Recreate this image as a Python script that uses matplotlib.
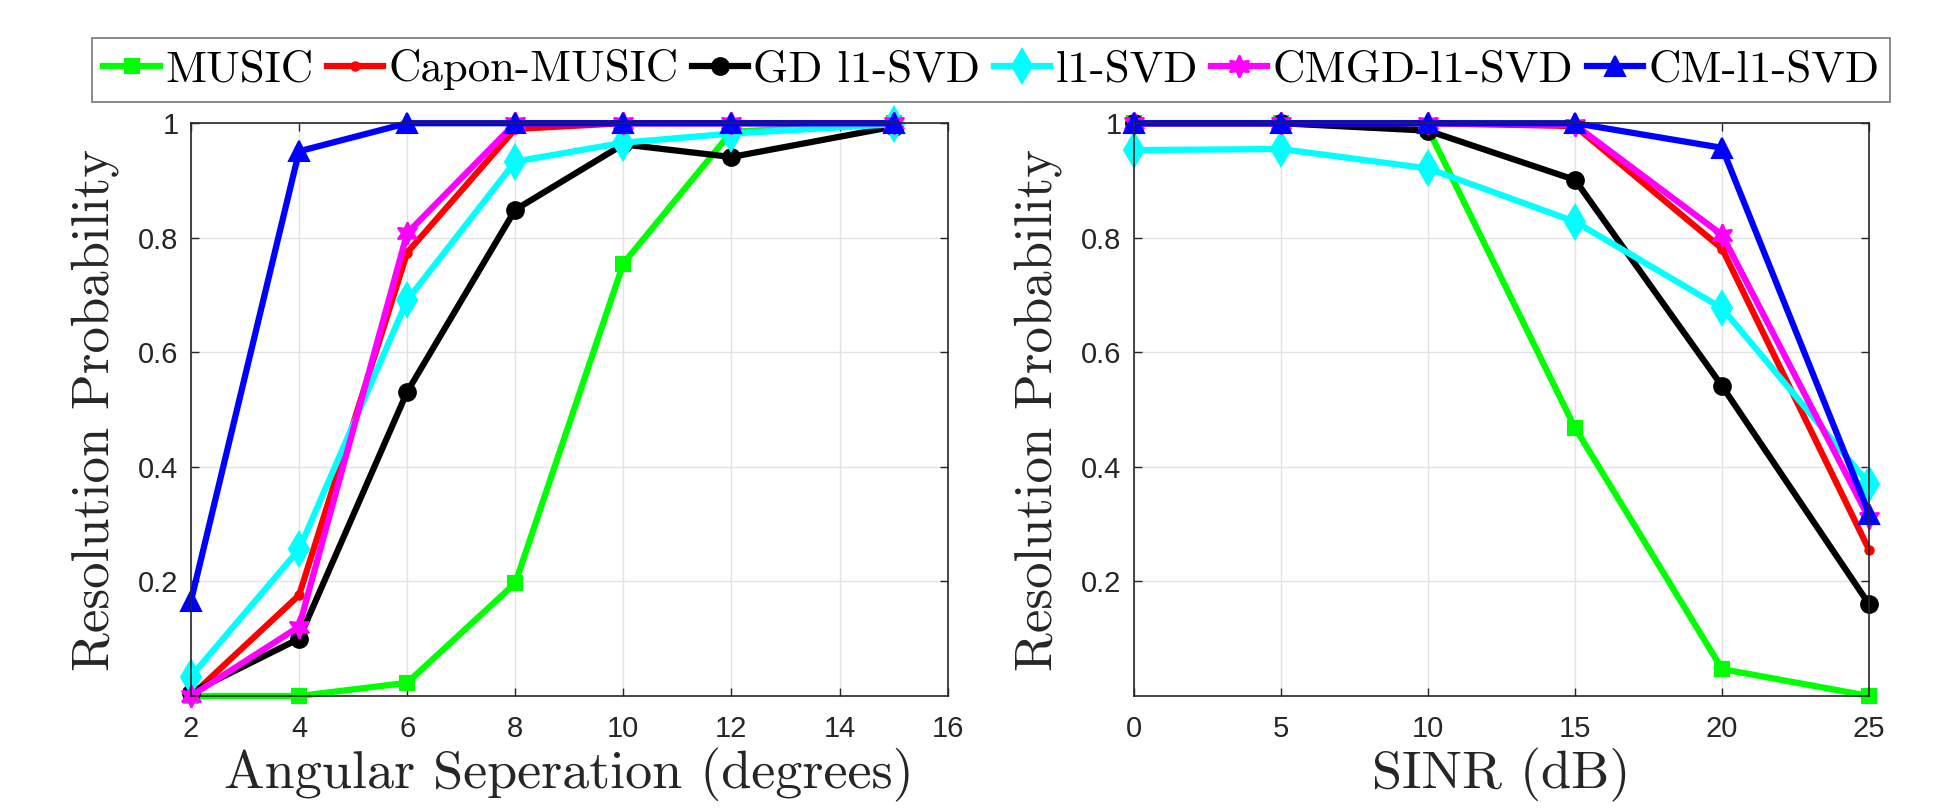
import matplotlib
matplotlib.use("Agg")
import matplotlib.pyplot as plt

# data
angle = [2, 4, 6, 8, 10, 12, 15]
sinr = [0, 5, 10, 15, 20, 25]

names = ["MUSIC", "Capon-MUSIC", "GD l1-SVD", "l1-SVD", "CMGD-l1-SVD", "CM-l1-SVD"]

ang_music = [0.0, 0.0, 0.023, 0.197, 0.755, 0.985, 1.0]
ang_capon = [0.0, 0.176, 0.774, 0.99, 1.0, 1.0, 1.0]
ang_gd = [0.006, 0.10, 0.531, 0.849, 0.963, 0.941, 0.994]
ang_l1 = [0.034, 0.256, 0.691, 0.933, 0.966, 0.982, 0.998]
ang_cmgd = [0.0, 0.121, 0.808, 1.0, 1.0, 1.0, 1.0]
ang_cm = [0.166, 0.951, 1.0, 1.0, 1.0, 1.0, 1.0]

snr_music = [1.0, 1.0, 0.99, 0.468, 0.047, 0.0]
snr_capon = [1.0, 1.0, 1.0, 0.995, 0.781, 0.255]
snr_gd = [1.0, 1.0, 0.987, 0.901, 0.541, 0.16]
snr_l1 = [0.953, 0.955, 0.921, 0.828, 0.677, 0.37]
snr_cmgd = [1.0, 1.0, 1.0, 0.997, 0.805, 0.31]
snr_cm = [1.0, 1.0, 1.0, 1.0, 0.957, 0.318]

yticks = [0.2, 0.4, 0.6, 0.8, 1.0]
ytick_labels = ["0.2", "0.4", "0.6", "0.8", "1"]
xticks_ang = [2, 4, 6, 8, 10, 12, 14, 16]
xticks_snr = [0, 5, 10, 15, 20, 25]

# styles: color, marker, markersize
styles = [
    ("#00ff00", "s", 10),
    ("#ff0000", "o", 6),
    ("#000000", "o", 12),
    ("#00ffff", "d", 17),
    ("#ff00ff", (6, 1, 0), 16),
    ("#0000ff", "^", 15),
]

LABEL_FONT = "cmr10"
TICK_FONT = "Liberation Sans"
GREY = "#262626"

fig = plt.figure(figsize=(19.45, 8.09), dpi=100)
ax1 = fig.add_axes([0.0982, 0.1397, 0.389, 0.708])
ax2 = fig.add_axes([0.583, 0.1397, 0.378, 0.708])


def style_axes(ax, xticks, xlim, xlabel):
    ax.set_xlim(*xlim)
    ax.set_ylim(0, 1)
    ax.set_xticks(xticks)
    ax.set_xticklabels([str(t) for t in xticks])
    ax.set_yticks(yticks)
    ax.set_yticklabels(ytick_labels)
    ax.grid(True, color="#e3e3e3", linewidth=1.0)
    ax.set_axisbelow(True)
    ax.tick_params(direction="in", length=6, width=1, top=True, right=True,
                   colors=GREY, labelsize=21, pad=9)
    ax.tick_params(axis="x", pad=14)
    for lab in ax.get_xticklabels() + ax.get_yticklabels():
        lab.set_fontfamily(TICK_FONT)
    for sp in ax.spines.values():
        sp.set_color(GREY)
        sp.set_linewidth(1.2)
    ax.set_xlabel(xlabel, fontfamily=LABEL_FONT, fontsize=39, labelpad=3, color=GREY)
    ax.set_ylabel("Resolution Probability", fontfamily=LABEL_FONT, fontsize=38,
                  labelpad=14, color=GREY)


series_ang = [ang_music, ang_capon, ang_gd, ang_l1, ang_cmgd, ang_cm]
series_snr = [snr_music, snr_capon, snr_gd, snr_l1, snr_cmgd, snr_cm]

handles = []
for name, (c, m, ms), ya, ys in zip(names, styles, series_ang, series_snr):
    h, = ax1.plot(angle, ya, color=c, marker=m, markersize=ms, linewidth=4.5,
                  markeredgecolor=c, markeredgewidth=1.5, label=name, clip_on=False)
    ax2.plot(sinr, ys, color=c, marker=m, markersize=ms, linewidth=4.5,
             markeredgecolor=c, markeredgewidth=1.5, clip_on=False)
    handles.append(h)

style_axes(ax1, xticks_ang, (2, 16), "Angular Seperation (degrees)")
style_axes(ax2, xticks_snr, (0, 25), "SINR (dB)")

leg = fig.legend(handles, names, loc="center", bbox_to_anchor=(0.5097, 0.9135),
                 ncol=6, frameon=True, fancybox=False, edgecolor="#555555",
                 handlelength=1.25, handletextpad=0.12, columnspacing=0.3,
                 borderpad=0.25, borderaxespad=0.0,
                 prop={"family": LABEL_FONT, "size": 32.3})
leg.get_frame().set_linewidth(1.2)

fig.savefig("out.png", dpi=100)
